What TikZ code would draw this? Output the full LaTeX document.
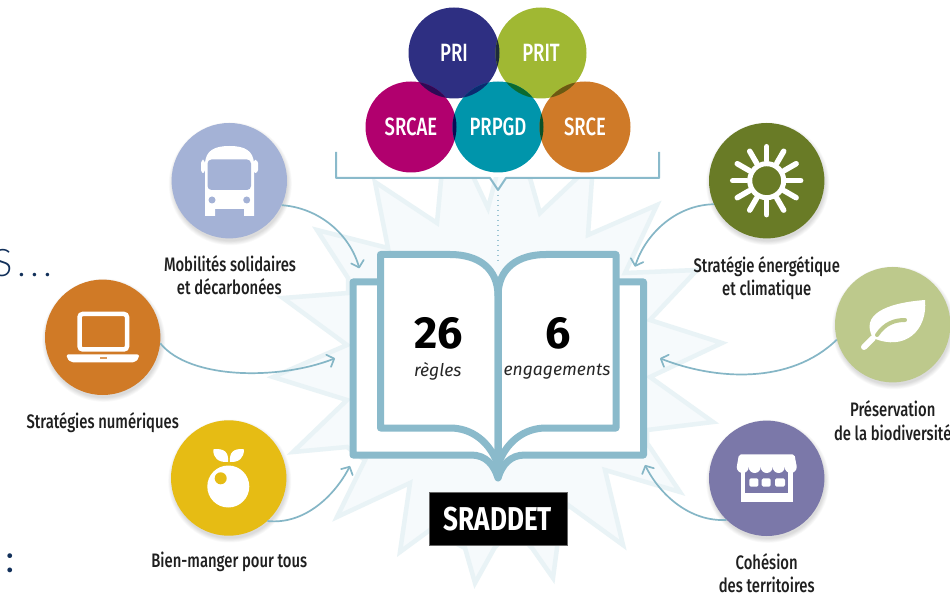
\documentclass[tikz,border=0pt]{standalone}
\usepackage{fontspec}
\usetikzlibrary{arrows.meta}
\setmainfont{Fira Sans}
\newfontfamily\labfont[FakeStretch=0.76]{Fira Sans Medium}
\newfontfamily\capfont[FakeStretch=0.74]{Fira Sans Medium}
\newfontfamily\boxfont[FakeStretch=0.79]{Fira Sans}
\newfontfamily\slidefont[LetterSpace=12]{Lato Light}
\newfontfamily\colonfont{Lato}
\newcommand{\fpx}[1]{\fontsize{#1pt}{#1pt}\selectfont}
\definecolor{bk}{HTML}{8ABACB}
\definecolor{arr}{HTML}{85B6C6}
\definecolor{starfill}{HTML}{F6FAFC}
\definecolor{staredge}{HTML}{E9F3F6}
\definecolor{cpri}{HTML}{2E2F82}
\definecolor{cprit}{HTML}{A0B833}
\definecolor{csrcae}{HTML}{B1006E}
\definecolor{cprpgd}{HTML}{0095AB}
\definecolor{csrce}{HTML}{CF7A28}
\definecolor{cbus}{HTML}{A4B2D6}
\definecolor{clap}{HTML}{D07A26}
\definecolor{capl}{HTML}{E6BC14}
\definecolor{csun}{HTML}{697B26}
\definecolor{clea}{HTML}{BDC98C}
\definecolor{csho}{HTML}{7B78A9}
\definecolor{lab}{HTML}{1F1F1F}
\definecolor{slide}{HTML}{12305A}
\tikzset{
  venn/.style={circle,minimum size=91pt,inner sep=0pt,text=white,font=\capfont\fpx{25}},
  icon/.style={circle,minimum size=115.4pt,inner sep=0pt,fill=#1},
  lbl/.style={text=lab,font=\labfont\fpx{19.5},align=center,inner sep=0pt,text height=15pt,text depth=1pt},
  conn/.style={draw=arr,line width=1.7pt,-{Straight Barb[length=6pt,width=13pt,round]}},
  bookline/.style={draw=bk,line width=7pt,line join=round,line cap=round,fill=white},
  num/.style={font=\bfseries\fpx{45},text=black,inner sep=0pt},
  sub/.style={font=\itshape\fpx{17.5},text=black!85,inner sep=0pt},
}
\newcommand{\softshadow}[2]{%
  \foreach \rr in {57.5,58.3,59.1,59.9,60.7,61.5}
    \fill[black,opacity=.025] (#1+1,#2+3) circle (\rr pt);}
\newcommand{\lens}[7]{%
  \begin{scope}\definecolor{lenscol}{HTML}{#7}\clip (#1,#2) circle (#3 pt);
  \fill[lenscol] (#4,#5) circle (#6 pt);\end{scope}}
\begin{document}
\begin{tikzpicture}[x=1pt,y=-1pt]
\useasboundingbox (0,0) rectangle (950,593);
\fill[white] (0,0) rectangle (950,593);
% burst
\begin{scope}
\clip (0,178) rectangle (950,593);
\path[fill=starfill,draw=staredge,line width=4.5pt,line join=miter,miter limit=10]
 (375,182)--(437,223)--(442,170)--(456,150)--(470,170)--(488,208)--(498,170)--(515,170)--(530,178)--(540,213)--(577,178)--(585,165)--(592,178)--(588,235)--(657,205)--(625,273)--(697,270)--(650,320)--(722,343)--(650,377)--(713,422)--(647,430)--(647,443)--(680,492)--(605,470)--(623,545)--(568,505)--(557,530)--(557,548)--(553,578)--(532,548)--(515,530)--(495,547)--(475,583)--(465,548)--(430,530)--(400,552)--(410,483)--(337,517)--(365,460)--(347,447)--(293,452)--(347,400)--(273,377)--(347,345)--(283,298)--(348,293)--(348,278)--(317,230)--(388,248)--cycle;
\end{scope}
% venn
\node[venn,fill=cpri] (pri) at (454,53) {PRI};
\node[venn,fill=cprit] (prit) at (541,53) {PRIT};
\node[venn,fill=csrcae] (srcae) at (411,127) {SRCAE};
\node[venn,fill=cprpgd] (prpgd) at (498,127) {PRPGD};
\node[venn,fill=csrce] (srce) at (585,127) {SRCE};
\lens{454}{53}{45.5}{541}{53}{45.5}{1D2B3A}
\lens{454}{53}{45.5}{411}{127}{45.5}{2E0A55}
\lens{454}{53}{45.5}{498}{127}{45.5}{0B2A70}
\lens{541}{53}{45.5}{498}{127}{45.5}{0B6A30}
\lens{541}{53}{45.5}{585}{127}{45.5}{6A5A12}
\lens{411}{127}{45.5}{498}{127}{45.5}{0A0A55}
\lens{585}{127}{45.5}{498}{127}{45.5}{0A5028}
% bracket
\coordinate (brtip) at (498,190);
\coordinate (dotend) at (498,262);
\draw[bk,line width=2pt,line join=round] (336,152)--(336,178)--(490,178)--(brtip)--(506,178)--(659,178)--(659,152);
\draw[bk!85,line width=1.4pt,dash pattern=on 1.5pt off 3.5pt] (brtip)++(0,5)--(dotend);
% book
\path[bookline] (353,282)--(643.5,282)--(643.5,455)--(525,455) .. controls (510,455) and (502,465) .. (498,478) .. controls (494,465) and (486,455) .. (471,455)--(353,455)--cycle;
\path[bookline] (380.5,254.5)--(450,254.5) .. controls (478,254.5) and (498,268) .. (498,296)--(498,465) .. controls (490,442) and (472,428) .. (450,428)--(380.5,428)--cycle;
\path[bookline] (616,254.5)--(546,254.5) .. controls (518,254.5) and (498,268) .. (498,296)--(498,465) .. controls (506,442) and (524,428) .. (546,428)--(616,428)--cycle;
\draw[bk,line width=7pt,line cap=round] (498,290)--(498,477);
\node[num] (n26) at (439,333) {26};
\node[num] (n6) at (557.7,333) {6};
\node[sub] (regles) at (437.7,371.5) {règles};
\node[sub] (engag) at (557,371.5) {engagements};
\node[fill=black,draw=black!60,line width=.5pt,minimum width=138pt,minimum height=53pt,inner sep=0pt,text=white,font=\boxfont\bfseries\fpx{33}] (sraddet) at (498,519) {SRADDET};
% icon circles
\softshadow{229.3}{180.7}\softshadow{102.7}{337.3}\softshadow{228.7}{478}
\softshadow{766.7}{180.7}\softshadow{892.7}{324.7}\softshadow{766.7}{478.3}
\node[icon=cbus] (bus) at (229.3,180.7) {};
\node[icon=clap] (laptop) at (102.7,337.3) {};
\node[icon=capl] (apple) at (228.7,478) {};
\node[icon=csun] (sun) at (766.7,180.7) {};
\node[icon=clea] (leaf) at (892.7,324.7) {};
\node[icon=csho] (shop) at (766.7,478.3) {};
% bus icon
\fill[white,rounded corners=3pt] (201,160)--(205,160)--(205,173)--(201,173)--cycle;
\fill[white,rounded corners=3pt] (253,160)--(258,160)--(258,173)--(253,173)--cycle;
\fill[white] (205,216)--(205,165) .. controls (205,150) and (215,146) .. (229.5,146) .. controls (244,146) and (254,150) .. (254,165)--(254,216)--(244,216)--(244,209)--(215,209)--(215,216)--cycle;
\fill[cbus,rounded corners=4pt] (207.5,159.5) rectangle (251,190);
\fill[cbus] (212,200) circle (3.5pt) (246.7,200) circle (3.5pt);
% laptop icon
\draw[white,line width=4.5pt,rounded corners=3pt] (79.6,314) rectangle (127,349.4);
\fill[white,rounded corners=2pt] (66.7,354.3)--(139,354.3)--(139,358)--(135,362.3)--(71,362.3)--(66.7,358)--cycle;
\fill[clap!75!white] (100,357.3) rectangle (107,359);
% apple icon
\fill[white] (228.3,486.5) circle (21pt);
\fill[capl] (220.7,478.3) circle (6pt);
\fill[white] (213.3,449.3) .. controls (224,448) and (229,452) .. (228,462) .. controls (218,462.5) and (213,458) .. cycle;
\fill[white] (244,449.3) .. controls (234,448) and (229,452) .. (230,462) .. controls (239,462.5) and (244,458) .. cycle;
% sun icon
\draw[white,line width=5pt] (766.7,180.7) circle (17pt);
\foreach \a in {0,30,...,330}
  \draw[white,line width=5.5pt,line cap=round] (766.7,180.7)++(\a:20)--++(\a:14);
% leaf icon
\fill[white] (873,338) .. controls (860,315) and (885,303) .. (925,300) .. controls (928,330) and (905,352) .. cycle;
\draw[white,line width=6pt,line cap=round] (873,338)--(864,347);
\draw[clea,line width=4pt,line cap=round] (877,335) .. controls (885,323) and (895,320) .. (905,320);
% shop icon
\fill[white] (741,470) rectangle (792.7,502.3);
\fill[csho] (745,470) rectangle (788.3,492.7);
\fill[white,rounded corners=1.5pt] (749.3,478.3) rectangle (758.3,486.7);
\fill[white,rounded corners=1.5pt] (761.7,478.3) rectangle (770.7,486.7);
\fill[white,rounded corners=1.5pt] (775,478.3) rectangle (785,486.7);
\fill[white,rounded corners=2pt] (739,454.3)--(794.5,454.3)--(796.7,467)--(736.7,467)--cycle;
\foreach \x in {742.7,754.7,766.7,778.7,790.7}
  \fill[white] (\x,467) circle (6pt);
% connectors
\coordinate (t1) at (359.3,268.3);
\coordinate (t2) at (335,358.3);
\coordinate (t3) at (350,466);
\coordinate (t4) at (635,266.7);
\coordinate (t5) at (660,358.3);
\coordinate (t6) at (645,465);
\draw[conn] (bus.-25.5) .. controls (320,208) and (350,235) .. (t1);
\draw[conn] (laptop.-6) .. controls (190,380) and (280,380) .. (t2);
\draw[conn] (apple.-48) .. controls (305,525) and (335,495) .. (t3);
\draw[conn] (sun.204.5) .. controls (675,205) and (645,235) .. (t4);
\draw[conn] (leaf.195.4) .. controls (790,385) and (715,380) .. (t5);
\draw[conn] (shop.226) .. controls (690,522) and (660,495) .. (t6);
% labels
\node[lbl] (l1a) at (230,265) {Mobilités solidaires};
\node[lbl] (l1b) at (229.3,287.7) {et décarbonées};
\node[lbl] (l2) at (102.7,421.7) {Stratégies numériques};
\node[lbl] (l3) at (229.3,560.7) {Bien-manger pour tous};
\node[lbl] (l4a) at (766.7,265.7) {Stratégie énergétique};
\node[lbl] (l4b) at (766.7,288.3) {et climatique};
\node[lbl] (l5a) at (892.7,409) {Préservation};
\node[lbl] (l5b) at (892.7,433.3) {de la biodiversité};
\node[lbl] (l6a) at (766.7,562.3) {Cohésion};
\node[lbl] (l6b) at (766.7,585) {des territoires};
% cropped slide text
\node[anchor=base east,inner sep=0pt,text=slide,font=\slidefont\fpx{38}] (slideS) at (53,277) {S...};
\node[anchor=base,inner sep=0pt,text=slide,font=\colonfont\fpx{38}] (slidecolon) at (10,572.5) {:};
\end{tikzpicture}
\end{document}
